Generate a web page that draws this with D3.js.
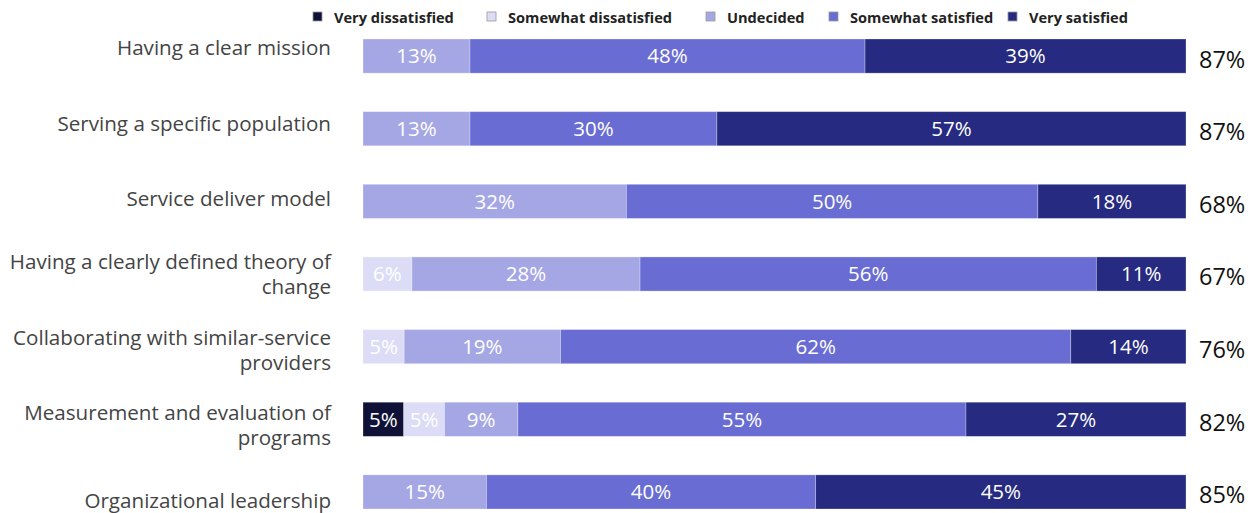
<!DOCTYPE html>
<html>
<head>
<meta charset="utf-8">
<script src="https://cdn.jsdelivr.net/npm/d3@7/dist/d3.min.js"></script>
<style>
  html, body { margin: 0; padding: 0; background: #fff; }
  svg { display: block; font-family: "Open Sans", Lato, sans-serif; }
</style>
</head>
<body>
<svg id="chart" width="1259" height="513"></svg>
<script>
// Survey categories (line breaks mark where each label wraps)
const categories = [
  "Having a clear mission",
  "Serving a specific population",
  "Service deliver model",
  "Having a clearly defined theory of\nchange",
  "Collaborating with similar-service\nproviders",
  "Measurement and evaluation of\nprograms",
  "Organizational leadership"
];

// Response shares, percent
const veryDissatisfied     = [0, 0, 0, 0, 0, 5, 0];
const somewhatDissatisfied = [0, 0, 0, 6, 5, 5, 0];
const undecided            = [13, 13, 32, 28, 19, 9, 15];
const somewhatSatisfied    = [48, 30, 50, 56, 62, 55, 40];
const verySatisfied        = [39, 57, 18, 11, 14, 27, 45];

const seriesNames = ["Very dissatisfied", "Somewhat dissatisfied", "Undecided", "Somewhat satisfied", "Very satisfied"];
const seriesColors = ["#0f1236", "#dcdcf6", "#a5a7e5", "#696dd3", "#262a80"];
const seriesValues = [veryDissatisfied, somewhatDissatisfied, undecided, somewhatSatisfied, verySatisfied];

const rows = categories.map((c, i) => {
  const r = { category: c };
  seriesNames.forEach((s, k) => { r[s] = seriesValues[k][i]; });
  return r;
});

const svg = d3.select("#chart");

const x = d3.scaleLinear().domain([0, 1]).range([363, 1186]);
const y = d3.scaleBand().domain(categories).range([39, 509]).paddingInner(0.53).paddingOuter(0);
const yLabel = d3.scalePoint().domain(categories).range([48, 501]);
const color = d3.scaleOrdinal().domain(seriesNames).range(seriesColors);

// Each row fills the full width: shares normalised to the row total
const stack = d3.stack().keys(seriesNames).offset(d3.stackOffsetExpand);
const stacked = stack(rows);

const layer = svg.append("g").selectAll("g")
  .data(stacked)
  .join("g")
  .attr("fill", d => color(d.key));

layer.selectAll("rect")
  .data(d => d.map(p => ({ p, key: d.key })).filter(e => e.p.data[e.key] > 0))
  .join("rect")
  .attr("x", e => x(e.p[0]))
  .attr("y", e => y(e.p.data.category))
  .attr("width", e => x(e.p[1]) - x(e.p[0]))
  .attr("height", y.bandwidth())
  .attr("stroke", "rgba(255,255,255,0.35)")
  .attr("stroke-width", 0.8);

// Segment value labels
layer.selectAll("text")
  .data(d => d.map(p => ({ p, key: d.key })).filter(e => e.p.data[e.key] > 0))
  .join("text")
  .attr("x", e => (x(e.p[0]) + x(e.p[1])) / 2)
  .attr("y", e => y(e.p.data.category) + y.bandwidth() / 2)
  .attr("dy", "0.36em")
  .attr("text-anchor", "middle")
  .attr("fill", "#fff")
  .attr("font-size", 20.5)
  .text(e => e.p.data[e.key] + "%");

// Category labels, right aligned
const catG = svg.append("g");
categories.forEach(c => {
  const lines = c.split("\n");
  const lh = 25;
  const t = catG.append("text")
    .attr("text-anchor", "end")
    .attr("fill", "#444")
    .attr("font-size", 20.6);
  lines.forEach((ln, i) => {
    t.append("tspan")
      .attr("x", 331)
      .attr("y", yLabel(c) + (i - (lines.length - 1) / 2) * lh)
      .attr("dy", "0.36em")
      .text(ln);
  });
});

// Total satisfied per row
svg.append("g").selectAll("text")
  .data(rows)
  .join("text")
  .attr("x", 1199)
  .attr("y", d => y(d.category) + y.bandwidth() / 2 + 3)
  .attr("dy", "0.36em")
  .attr("fill", "#111")
  .attr("font-size", 23.5)
  .text(d => (d["Somewhat satisfied"] + d["Very satisfied"]) + "%");

// Legend
const legendX = [313, 487, 706, 829, 1008];
const legend = svg.append("g").selectAll("g")
  .data(seriesNames)
  .join("g")
  .attr("transform", (d, i) => `translate(${legendX[i]},12)`);
legend.append("rect")
  .attr("width", 9).attr("height", 9)
  .attr("fill", d => color(d))
  .attr("stroke", "#999").attr("stroke-width", 0.8);
legend.append("text")
  .attr("x", 21).attr("y", 6).attr("dy", "0.36em")
  .attr("font-size", 14.6).attr("font-weight", "bold").attr("fill", "#222")
  .text(d => d);
</script>
</body>
</html>
